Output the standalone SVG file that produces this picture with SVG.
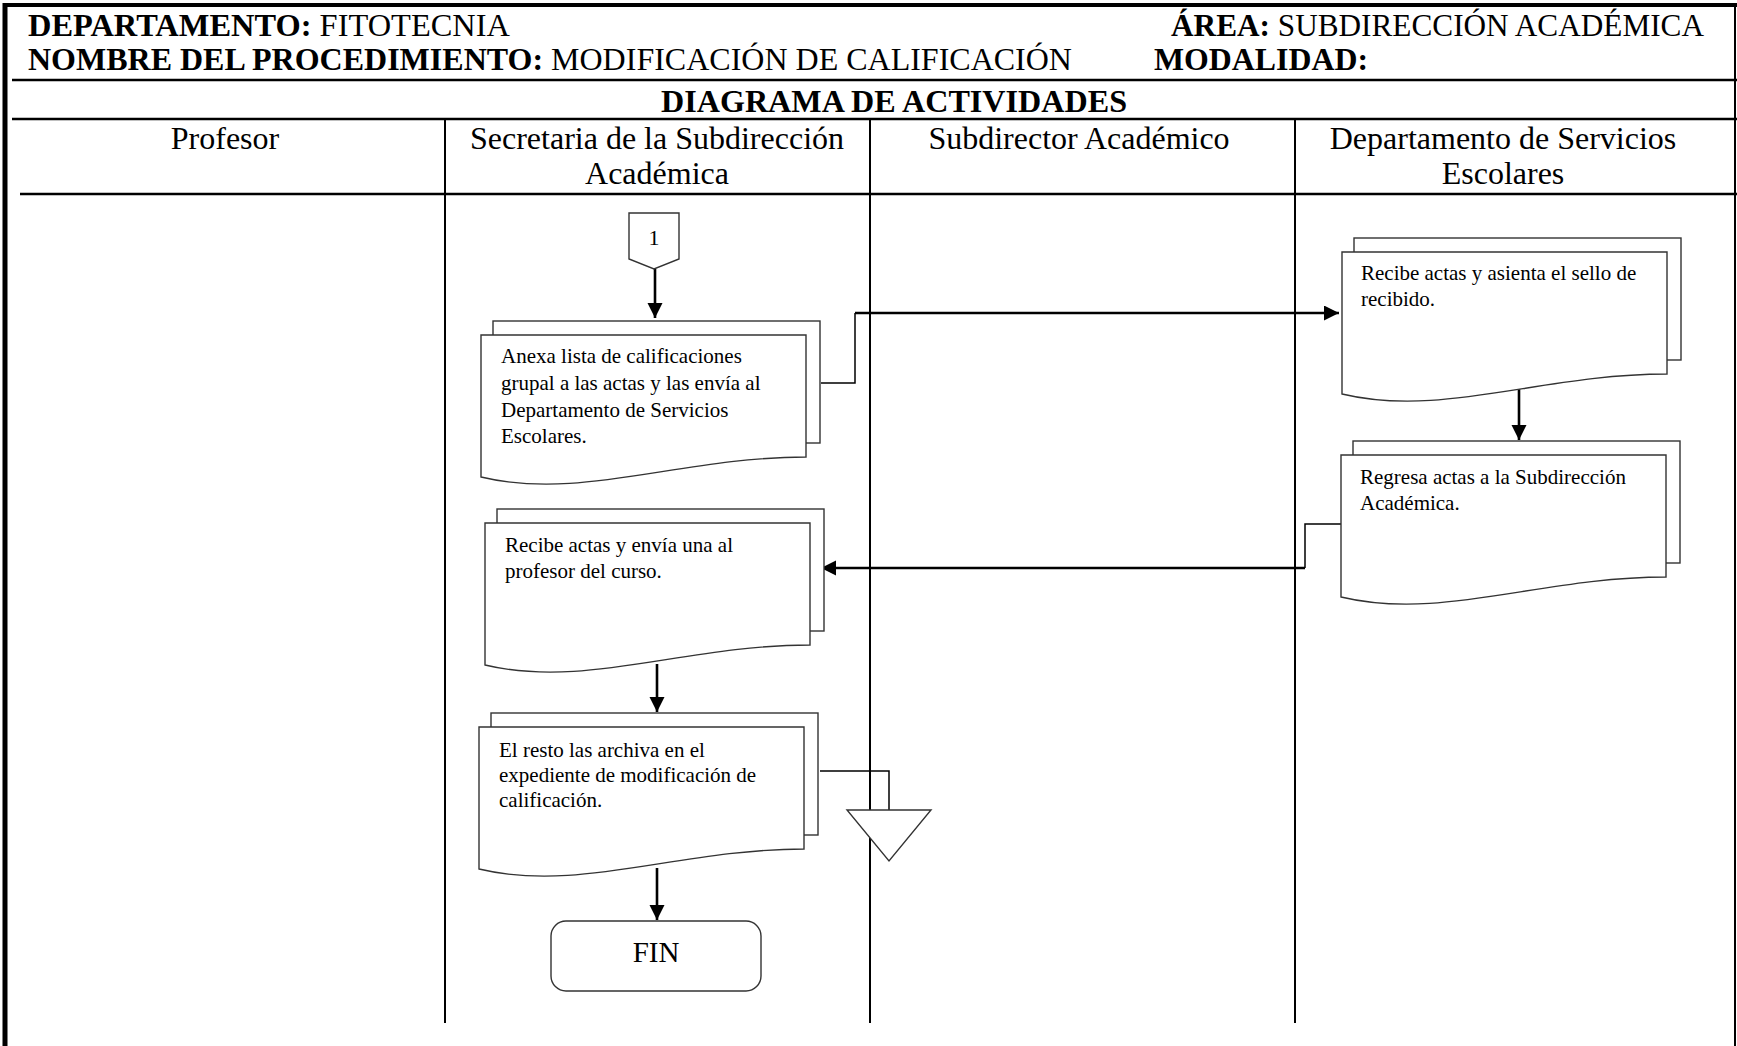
<svg xmlns="http://www.w3.org/2000/svg" xmlns:xlink="http://www.w3.org/1999/xlink" width="1737" height="1046" viewBox="0 0 1737 1046">
<style>
.hb{font-family:"Liberation Serif","Times New Roman",serif;font-size:31px;font-weight:bold;fill:#000}
.hr{font-weight:normal}
.lane{font-family:"Liberation Serif","Times New Roman",serif;font-size:32px;fill:#000;text-anchor:middle}
.doc{font-family:"Liberation Serif","Times New Roman",serif;font-size:21px;fill:#000}
.frame{stroke:#000;fill:none}
.shape{fill:#fff;stroke:#333;stroke-width:1.4}
.thick{stroke:#000;stroke-width:2.6;fill:none}
.thin{stroke:#000;stroke-width:1.5;fill:none}
</style>
<defs>
<marker id="ah" markerUnits="userSpaceOnUse" markerWidth="16" markerHeight="16" refX="15" refY="7.5" orient="auto">
<path d="M0,0 L15,7.5 L0,15 z" fill="#000"/>
</marker>
<g id="docShape">
<rect x="12" y="-14" width="327" height="122" class="shape"/>
<path class="shape" d="M0,0 H325 V122 C200,122 100,166 0,142 Z"/>
</g>
</defs>
<rect width="1737" height="1046" fill="#fff"/>

<g id="frame">
<line class="frame" x1="3" y1="5" x2="1737" y2="5" stroke-width="4"/>
<line class="frame" x1="5" y1="3" x2="5" y2="1046" stroke-width="5"/>
<line class="frame" x1="1735" y1="3" x2="1735" y2="1046" stroke-width="2"/>
<line class="frame" x1="12" y1="80" x2="1737" y2="80" stroke-width="2.5"/>
<line class="frame" x1="12" y1="119" x2="1737" y2="119" stroke-width="2.5"/>
<line class="frame" x1="20" y1="194" x2="1737" y2="194" stroke-width="2.5"/>
<line class="frame" x1="445" y1="119" x2="445" y2="1023" stroke-width="2"/>
<line class="frame" x1="870" y1="119" x2="870" y2="1023" stroke-width="2"/>
<line class="frame" x1="1295" y1="119" x2="1295" y2="1023" stroke-width="2"/>
</g>

<g id="header">
<text class="hb" x="28" y="36" textLength="482" lengthAdjust="spacingAndGlyphs">DEPARTAMENTO: <tspan class="hr">FITOTECNIA</tspan></text>
<text class="hb" x="1171" y="36" textLength="533" lengthAdjust="spacingAndGlyphs">ÁREA: <tspan class="hr">SUBDIRECCIÓN ACADÉMICA</tspan></text>
<text class="hb" x="28" y="70" textLength="1044" lengthAdjust="spacingAndGlyphs">NOMBRE DEL PROCEDIMIENTO: <tspan class="hr">MODIFICACIÓN DE CALIFICACIÓN</tspan></text>
<text class="hb" x="1154" y="70" textLength="214" lengthAdjust="spacingAndGlyphs">MODALIDAD:</text>
<text class="hb" x="661" y="112" textLength="466" lengthAdjust="spacingAndGlyphs">DIAGRAMA DE ACTIVIDADES</text>
</g>

<g id="lanes">
<text class="lane" x="225" y="149">Profesor</text>
<text class="lane" x="657" y="149">Secretaria de la Subdirección</text>
<text class="lane" x="657" y="184">Académica</text>
<text class="lane" x="1079" y="149">Subdirector Académico</text>
<text class="lane" x="1503" y="149">Departamento de Servicios</text>
<text class="lane" x="1503" y="184">Escolares</text>
</g>

<g id="connectors">
<line class="thick" x1="655" y1="269" x2="655" y2="318" marker-end="url(#ah)"/>
<polyline class="thin" points="821,383 855,383 855,313"/>
<line class="thick" x1="855" y1="313" x2="1339" y2="313" marker-end="url(#ah)"/>
<line class="thick" x1="1519" y1="388" x2="1519" y2="440" marker-end="url(#ah)"/>
<polyline class="thin" points="1341,524 1305,524 1305,568"/>
<line class="thick" x1="1305" y1="568" x2="821" y2="568" marker-end="url(#ah)"/>
<line class="thick" x1="657" y1="664" x2="657" y2="712" marker-end="url(#ah)"/>
<polyline class="thin" points="820,771 889,771 889,810"/>
<line class="thick" x1="657" y1="868" x2="657" y2="920" marker-end="url(#ah)"/>
</g>

<g id="n1">
<polygon class="shape" points="629,213 679,213 679,259 654,269 629,259"/>
<text class="doc" x="654" y="245" text-anchor="middle" style="font-size:22px">1</text>
</g>

<g id="n2">
<use xlink:href="#docShape" x="481" y="335"/>
<text class="doc" x="501" y="363">Anexa lista de calificaciones</text>
<text class="doc" x="501" y="390">grupal a las actas y las envía al</text>
<text class="doc" x="501" y="417">Departamento de Servicios</text>
<text class="doc" x="501" y="443">Escolares.</text>
</g>

<g id="n3">
<use xlink:href="#docShape" x="1342" y="252"/>
<text class="doc" x="1361" y="280">Recibe actas y asienta el sello de</text>
<text class="doc" x="1361" y="306">recibido.</text>
</g>

<g id="n4">
<use xlink:href="#docShape" x="1341" y="455"/>
<text class="doc" x="1360" y="484">Regresa actas a la Subdirección</text>
<text class="doc" x="1360" y="510">Académica.</text>
</g>

<g id="n5">
<use xlink:href="#docShape" x="485" y="523"/>
<text class="doc" x="505" y="552">Recibe actas y envía una al</text>
<text class="doc" x="505" y="578">profesor del curso.</text>
</g>

<g id="n6">
<use xlink:href="#docShape" x="479" y="727"/>
<text class="doc" x="499" y="757">El resto las archiva en el</text>
<text class="doc" x="499" y="782">expediente de modificación de</text>
<text class="doc" x="499" y="807">calificación.</text>
</g>

<g id="n7">
<polygon class="shape" points="847,810 931,810 889,861"/>
</g>

<g id="n8">
<rect class="shape" x="551" y="921" width="210" height="70" rx="15"/>
<text class="doc" x="656" y="962" text-anchor="middle" style="font-size:29px">FIN</text>
</g>
</svg>
